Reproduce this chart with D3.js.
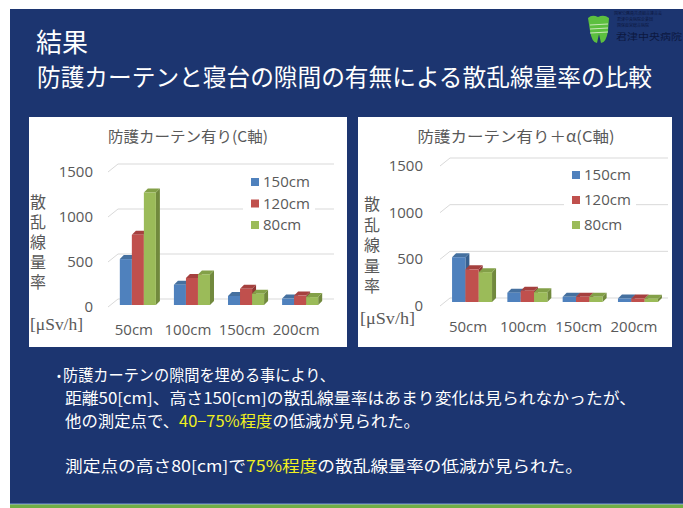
<!DOCTYPE html>
<html><head><meta charset="utf-8">
<script src="https://cdn.jsdelivr.net/npm/d3@7"></script>
<style>body{margin:0;background:#fff;} svg{display:block}</style>
</head><body><svg id="c" width="683" height="508"></svg>
<script>
// ---- data ----
const categories = ["50cm", "100cm", "150cm", "200cm"];
const seriesNames = ["150cm", "120cm", "80cm"];
const seriesColors = ["#4f81bd", "#c0504d", "#9bbb59"];
const seriesSide = ["#37608f", "#8f3634", "#71893d"];
const seriesTop = ["#45709f", "#a5403e", "#83a048"];
const left150 = [510, 225, 100, 72];
const left120 = [780, 300, 180, 105];
const left80 = [1250, 340, 125, 88];
const right150 = [480, 100, 55, 38];
const right120 = [350, 120, 55, 38];
const right80 = [320, 105, 55, 36];
const yTicks = [0, 500, 1000, 1500];
const leftTitle = "防護カーテン有り(C軸)";
const rightTitle = "防護カーテン有り＋α(C軸)";
const yLabel = "散乱線量率";
const unitLabel = "[μSv/h]";

const svg = d3.select("#c");
const JP = "'Noto Sans CJK JP','Noto Sans',sans-serif";

// background
svg.append("rect").attr("x", 0).attr("y", 0).attr("width", 683).attr("height", 508).attr("fill", "#fff");
svg.append("rect").attr("x", 10).attr("y", 9).attr("width", 673).attr("height", 495).attr("fill", "#1c3570");
svg.append("rect").attr("x", 10).attr("y", 503).attr("width", 673).attr("height", 1.5).attr("fill", "#4a6aa8");
svg.append("rect").attr("x", 10).attr("y", 504.5).attr("width", 673).attr("height", 4).attr("fill", "#6fae45");

// header
svg.append("text").attr("x", 36).attr("y", 52).attr("fill", "#fff")
  .style("font-family", JP).style("font-size", "26px").text("結果");
svg.append("text").attr("x", 37).attr("y", 86).attr("fill", "#fff")
  .attr("textLength", 615).attr("lengthAdjust", "spacingAndGlyphs")
  .style("font-family", JP).style("font-size", "23.5px")
  .text("防護カーテンと寝台の隙間の有無による散乱線量率の比較");

// logo
const logo = svg.append("g");
logo.append("path").attr("fill", "#5cbf3f")
  .attr("d", "M588,18 Q592,14 598,17 Q604,14 609,18 L608,31 Q606,43 601,43 L599,34 L597,43 Q592,43 590,31 Z");
[25, 29, 33].forEach(y => logo.append("line").attr("x1", 590).attr("x2", 608).attr("y1", y).attr("y2", y - 1)
  .attr("stroke", "#c8e8b8").attr("stroke-width", 1));
const lt = logo.append("text").attr("fill", "#0c1840").style("font-family", JP).style("font-size", "4px");
lt.append("tspan").attr("x", 614).attr("y", 15).text("国家公務員共済組合連合会");
lt.append("tspan").attr("x", 617).attr("y", 21).text("君津中央病院企業団");
lt.append("tspan").attr("x", 617).attr("y", 27).text("国保直営総合病院");
logo.append("text").attr("x", 616).attr("y", 40).attr("fill", "#0c1840").attr("textLength", 66).attr("lengthAdjust", "spacingAndGlyphs")
  .style("font-family", JP).style("font-size", "9px").text("君津中央病院");

// chart drawing
function drawChart(cfg) {
  const g = svg.append("g");
  g.append("rect").attr("x", cfg.panel[0]).attr("y", cfg.panel[1]).attr("width", cfg.panel[2]).attr("height", cfg.panel[3]).attr("fill", "#fff");
  const yF = d3.scaleLinear().domain([0, 1500]).range(cfg.yRange);
  const x0 = d3.scaleBand().domain(categories).range(cfg.xRange).paddingInner(cfg.padIn).paddingOuter(cfg.padOut);
  const x1 = d3.scaleBand().domain(seriesNames).range([0, x0.bandwidth()]);
  const wallDX = 10, wallDY = 8;
  // gridlines
  yTicks.forEach(t => {
    const yb = yF(t) - wallDY;
    g.append("path").attr("fill", "none").attr("stroke", "#d9d9d9").attr("stroke-width", 1)
      .attr("d", `M${cfg.wallX - wallDX},${yF(t)} L${cfg.wallX},${yb} L${cfg.wallEnd},${yb}`);
  });
  // y tick labels
  yTicks.forEach(t => {
    g.append("text").attr("x", cfg.tickX).attr("y", yF(t) + 5).attr("text-anchor", "end")
      .attr("fill", "#595959").style("font-family", "'Open Sans',sans-serif").style("font-size", "15px").text(t);
  });
  // bars
  const dx = 4, dy = 4;
  const yB = v => yF(v) - cfg.barLift;
  categories.forEach((c, ci) => {
    seriesNames.forEach((s, si) => {
      const v = cfg.values[si][ci];
      const x = x0(c) + x1(s) + cfg.barShift, w = x1.bandwidth();
      const y = yB(v), y0 = yB(0);
      g.append("polygon").attr("fill", seriesSide[si])
        .attr("points", [[x + w, y], [x + w + dx, y - dy], [x + w + dx, y0 - dy], [x + w, y0]].map(p => p.join(",")).join(" "));
      g.append("polygon").attr("fill", seriesTop[si])
        .attr("points", [[x, y], [x + dx, y - dy], [x + w + dx, y - dy], [x + w, y]].map(p => p.join(",")).join(" "));
      g.append("rect").attr("x", x).attr("y", y).attr("width", w).attr("height", y0 - y).attr("fill", seriesColors[si]);
    });
    g.append("text").attr("x", x0(c) + x0.bandwidth() / 2 + cfg.catShift).attr("y", cfg.catY).attr("text-anchor", "middle")
      .attr("fill", "#595959").style("font-family", "'Open Sans',sans-serif").style("font-size", "15px").text(c);
  });
  // title
  g.append("text").attr("x", cfg.titleX).attr("y", 142).attr("text-anchor", "middle").attr("fill", "#595959")
    .attr("textLength", cfg.titleW).attr("lengthAdjust", "spacingAndGlyphs")
    .style("font-family", JP).style("font-size", "15px").text(cfg.title);
  // legend
  const lg = g.append("g");
  lg.append("rect").attr("x", cfg.leg[0] - 8).attr("y", cfg.leg[1] - 12).attr("width", 72).attr("height", 70).attr("fill", "#fff");
  seriesNames.forEach((s, si) => {
    const ly = cfg.leg[1] + si * cfg.legStep;
    lg.append("rect").attr("x", cfg.leg[0]).attr("y", ly - 4).attr("width", 8).attr("height", 8).attr("fill", seriesColors[si]);
    lg.append("text").attr("x", cfg.leg[0] + 12).attr("y", ly + 5).attr("fill", "#595959")
      .style("font-family", "'Open Sans',sans-serif").style("font-size", "15px").text(s);
  });
  // y axis label (vertical)
  g.append("text").attr("x", cfg.ylabX).attr("y", cfg.ylabTop).attr("fill", "#595959")
    .style("writing-mode", "vertical-rl").style("letter-spacing", cfg.ylabSp + "px")
    .style("font-family", JP).style("font-size", "16px").text(yLabel);
  g.append("text").attr("x", cfg.unitX).attr("y", cfg.unitY).attr("fill", "#595959")
    .attr("textLength", cfg.unitW).attr("lengthAdjust", "spacingAndGlyphs")
    .style("font-family", "'Liberation Serif',serif").style("font-size", "16px").text(unitLabel);
}

drawChart({
  panel: [29, 117, 318, 230], yRange: [307, 172], xRange: [109, 329], padIn: 0.333, padOut: 0.2,
  wallX: 118, wallEnd: 334, tickX: 93, barLift: 2, barShift: 0, catY: 335, catShift: -4,
  values: [left150, left120, left80], title: leftTitle, titleX: 188, titleW: 160,
  leg: [251, 182], legStep: 21.5, ylabX: 38, ylabTop: 194, ylabSp: 4, unitX: 30, unitY: 330, unitW: 53
});
drawChart({
  panel: [358, 117, 314, 230], yRange: [306, 166], xRange: [441, 669], padIn: 0.277, padOut: 0.2,
  wallX: 450, wallEnd: 668, tickX: 423, barLift: 4, barShift: 0, catY: 332, catShift: -4,
  values: [right150, right120, right80], title: rightTitle, titleX: 516, titleW: 197,
  leg: [572, 175], legStep: 25, ylabX: 372, ylabTop: 196, ylabSp: 4.5, unitX: 360, unitY: 324, unitW: 55
});

// body text
const BF = "15.5px";
svg.append("text").attr("x", 59).attr("y", 381).attr("text-anchor", "middle").attr("fill", "#fff")
  .style("font-family", "'Noto Sans',sans-serif").style("font-size", "13px").text("•");
svg.append("text").attr("x", 63).attr("y", 381).attr("fill", "#fff").attr("textLength", 272).attr("lengthAdjust", "spacingAndGlyphs")
  .style("font-family", JP).style("font-size", BF).text("防護カーテンの隙間を埋める事により、");
svg.append("text").attr("x", 65).attr("y", 404).attr("fill", "#fff").attr("textLength", 571).attr("lengthAdjust", "spacingAndGlyphs")
  .style("font-family", JP).style("font-size", BF).text("距離50[cm]、高さ150[cm]の散乱線量率はあまり変化は見られなかったが、");
const t3 = svg.append("text").attr("x", 65).attr("y", 427).attr("fill", "#fff").attr("textLength", 355).attr("lengthAdjust", "spacingAndGlyphs")
  .style("font-family", JP).style("font-size", BF);
t3.append("tspan").text("他の測定点で、");
t3.append("tspan").attr("fill", "#f0f020").text("40−75%程度");
t3.append("tspan").text("の低減が見られた。");
const t4 = svg.append("text").attr("x", 65).attr("y", 472).attr("fill", "#fff").attr("textLength", 518).attr("lengthAdjust", "spacingAndGlyphs")
  .style("font-family", JP).style("font-size", BF);
t4.append("tspan").text("測定点の高さ80[cm]で");
t4.append("tspan").attr("fill", "#f0f020").text("75%程度");
t4.append("tspan").text("の散乱線量率の低減が見られた。");
</script></body></html>
